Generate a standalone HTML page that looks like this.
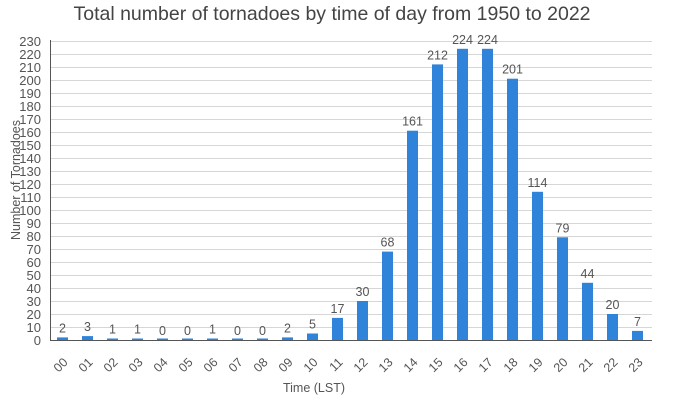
<!DOCTYPE html>
<html><head><meta charset="utf-8"><style>
body{margin:0;background:#fff;}
svg text{font-family:"Liberation Sans",sans-serif;}
</style></head><body>
<svg width="700" height="400" viewBox="0 0 700 400" xmlns="http://www.w3.org/2000/svg">
<rect width="700" height="400" fill="#fff"/>
<text x="332" y="20" font-size="19.5" fill="#444" text-anchor="middle">Total number of tornadoes by time of day from 1950 to 2022</text>
<g id="grid"></g>
<g id="bars"></g>
<line x1="50.5" y1="40" x2="50.5" y2="340.5" stroke="#555" stroke-width="1"/>
<line x1="50" y1="340.5" x2="652" y2="340.5" stroke="#555" stroke-width="1"/>
<text transform="translate(20,180) rotate(-90)" font-size="12.5" fill="#555" text-anchor="middle">Number of Tornadoes</text>
<text x="314" y="392" font-size="12.5" fill="#555" text-anchor="middle">Time (LST)</text>
</svg>
<script>
const ns="http://www.w3.org/2000/svg";
const g=document.getElementById('grid'),b=document.getElementById('bars');
function el(p,t,a,txt){const e=document.createElementNS(ns,t);for(const k in a)e.setAttribute(k,a[k]);if(txt!==undefined)e.textContent=txt;p.appendChild(e);return e;}
const y0=340.5,s=1.3;
for(let v=0;v<=230;v+=10){const y=y0-v*s;
 if(v>0)el(g,'line',{x1:51,x2:652,y1:y,y2:y,stroke:'#d6d6d6','stroke-width':1});
 el(g,'text',{x:41,y:y+4.5,'font-size':13,fill:'#555','text-anchor':'end'},v);}
const d=[2,3,1,1,0,0,1,0,0,2,5,17,30,68,161,212,224,224,201,114,79,44,20,7];
d.forEach((v,i)=>{const cx=62.5+i*25;const h=Math.max(v*s,1.5);
 el(b,'rect',{x:cx-5.5,y:340-h,width:11,height:h,fill:'#2f83d9'});
 el(b,'text',{x:cx,y:340-v*s-5,'font-size':12.5,fill:'#555','text-anchor':'middle'},v);
 const lab=(i<10?'0':'')+i;
 el(b,'text',{transform:`translate(${cx+6},363) rotate(-45)`,'font-size':12.5,fill:'#555','text-anchor':'end'},lab);
});
</script>
</body></html>
